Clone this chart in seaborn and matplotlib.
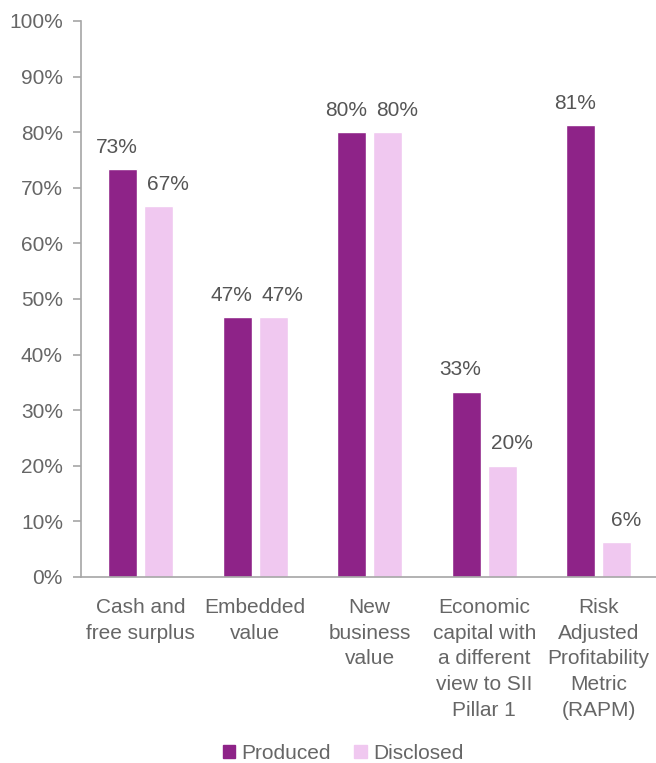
import matplotlib
matplotlib.use("Agg")
import matplotlib.pyplot as plt
import seaborn as sns
import pandas as pd

categories = [
    "Cash and\nfree surplus",
    "Embedded\nvalue",
    "New\nbusiness\nvalue",
    "Economic\ncapital with\na different\nview to SII\nPillar 1",
    "Risk\nAdjusted\nProfitability\nMetric\n(RAPM)",
]
produced = [73.3, 46.7, 80.0, 33.3, 81.25]
disclosed = [66.7, 46.7, 80.0, 20.0, 6.25]
series_names = ["Produced", "Disclosed"]
y_ticks = [0, 10, 20, 30, 40, 50, 60, 70, 80, 90, 100]

colors = ["#8E2388", "#F0C8F0"]
text_grey = "#666666"
label_grey = "#555555"
axis_grey = "#A6A6A6"
fs = 15

df = pd.DataFrame({
    "category": categories * 2,
    "value": produced + disclosed,
    "series": [series_names[0]] * len(categories) + [series_names[1]] * len(categories),
})

sns.set_theme(style="white")
plt.rcParams["font.family"] = ["Liberation Sans", "DejaVu Sans"]

fig = plt.figure(figsize=(6.56, 7.63), dpi=100)
ax = fig.add_axes([0.1235, 0.2438, 0.8765, 0.7287])

sns.barplot(
    data=df, x="category", y="value", hue="series",
    order=categories, hue_order=series_names,
    palette=colors, width=0.63, gap=0.2, dodge=True,
    saturation=1, legend=True, ax=ax, errorbar=None,
)

# value labels sit slightly outward so neighbouring labels do not collide
label_shift = [-4, 7]
for shift, container in zip(label_shift, ax.containers):
    for bar in container:
        h = bar.get_height()
        ax.annotate(
            f"{h:.0f}%",
            xy=(bar.get_x() + bar.get_width() / 2, h),
            xytext=(shift, 9), textcoords="offset points",
            ha="center", va="bottom", fontsize=fs, color=label_grey,
        )

ax.set_ylim(0, 100)
ax.set_xlim(-0.52, len(categories) - 0.5)
ax.set_yticks(y_ticks)
ax.set_yticklabels([f"{t}%" for t in y_ticks])
ax.set_xlabel("")
ax.set_ylabel("")

for side in ["top", "right"]:
    ax.spines[side].set_visible(False)
for side in ["left", "bottom"]:
    ax.spines[side].set_color(axis_grey)
    ax.spines[side].set_linewidth(1.2)

ax.tick_params(axis="y", left=True, length=6, width=1.2, color=axis_grey,
               labelsize=fs, labelcolor=text_grey, pad=7)
ax.tick_params(axis="x", bottom=False, labelsize=fs, labelcolor=text_grey, pad=9)
for lbl in ax.get_xticklabels():
    lbl.set_ha("center")
    lbl.set_multialignment("center")
    lbl.set_va("top")
    lbl.set_linespacing(1.45)

ax.get_legend().remove()
handles = [plt.Rectangle((0, 0), 1, 1, color=c) for c in colors]
fig.legend(
    handles, series_names, loc="lower center", bbox_to_anchor=(0.523, 0.0),
    ncol=2, frameon=False, fontsize=fs, labelcolor=text_grey,
    handlelength=0.6, handleheight=0.6, handletextpad=0.3, columnspacing=1.1,
    borderpad=0, borderaxespad=0,
)

fig.savefig("out.png", dpi=100)
